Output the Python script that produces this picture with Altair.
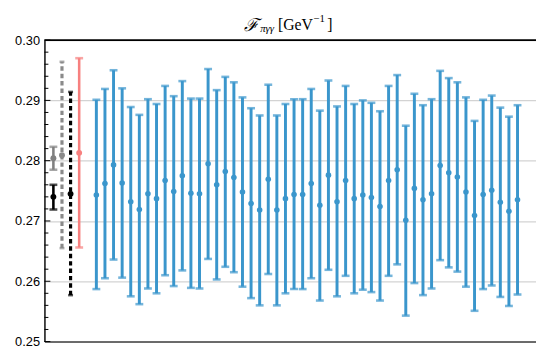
import altair as alt
import pandas as pd

# ---------------- data ----------------
blue_center = [0.2743, 0.2762, 0.2793, 0.2763, 0.2732, 0.2719, 0.2745, 0.2737, 0.2767, 0.2749,
               0.2775, 0.2746, 0.2745, 0.2795, 0.2760, 0.2782, 0.2772, 0.2748, 0.2729, 0.2718,
               0.2769, 0.2718, 0.2737, 0.2744, 0.2744, 0.2762, 0.2726, 0.2776, 0.2732, 0.2767,
               0.2737, 0.2743, 0.2739, 0.2724, 0.2767, 0.2785, 0.2701, 0.2754, 0.2735, 0.2745,
               0.2792, 0.2780, 0.2773, 0.2748, 0.2709, 0.2744, 0.2751, 0.2731, 0.2716, 0.2735]
blue_low = [0.2587, 0.2605, 0.2636, 0.2606, 0.2575, 0.2562, 0.2588, 0.2580, 0.2610, 0.2592,
            0.2618, 0.2589, 0.2588, 0.2637, 0.2603, 0.2624, 0.2615, 0.2591, 0.2572, 0.2560,
            0.2612, 0.2560, 0.2580, 0.2587, 0.2587, 0.2605, 0.2568, 0.2619, 0.2575, 0.2609,
            0.2580, 0.2586, 0.2582, 0.2568, 0.2609, 0.2628, 0.2543, 0.2597, 0.2577, 0.2588,
            0.2635, 0.2623, 0.2616, 0.2591, 0.2551, 0.2587, 0.2593, 0.2574, 0.2559, 0.2578]
blue_high = [0.2901, 0.2919, 0.2950, 0.2920, 0.2889, 0.2876, 0.2902, 0.2894, 0.2924, 0.2907,
             0.2932, 0.2903, 0.2903, 0.2952, 0.2917, 0.2939, 0.2930, 0.2905, 0.2887, 0.2875,
             0.2926, 0.2875, 0.2894, 0.2902, 0.2902, 0.2919, 0.2883, 0.2933, 0.2890, 0.2924,
             0.2894, 0.2900, 0.2896, 0.2882, 0.2924, 0.2942, 0.2858, 0.2911, 0.2892, 0.2902,
             0.2949, 0.2937, 0.2930, 0.2905, 0.2866, 0.2901, 0.2908, 0.2888, 0.2873, 0.2892]
blue_pos = list(range(len(blue_center)))

ref_names = ["gray_solid", "black_solid", "gray_dashed", "black_dashed", "red"]
ref_pos = [-5, -5, -4, -3, -2]
ref_center = [0.2804, 0.2740, 0.2809, 0.2745, 0.2813]
ref_low = [0.2785, 0.2719, 0.2655, 0.2577, 0.2656]
ref_high = [0.2823, 0.2760, 0.2964, 0.2914, 0.2970]
ref_colors = ["#808080", "#000000", "#8a8a8a", "#000000", "#f7807f"]
ref_dashed = [False, False, True, True, False]

major_ticks = [0.25, 0.26, 0.27, 0.28, 0.29, 0.30]
minor_ticks = [round(0.25 + 0.002 * i, 3) for i in range(26) if i % 5 != 0]
frame_top = [0.30]

title_parts = ["ℱ", "πγγ", "[GeV", "−1", "]"]

BLUE = "#3a96cc"
W, H = 499, 306

# ---------------- tables ----------------
blue_df = pd.DataFrame({"pos": blue_pos, "center": blue_center, "low": blue_low, "high": blue_high})
ref_df = pd.DataFrame({"name": ref_names, "pos": ref_pos, "center": ref_center, "low": ref_low,
                       "high": ref_high, "color": ref_colors, "dashed": ref_dashed})
major_df = pd.DataFrame({"v": major_ticks})
minor_df = pd.DataFrame({"v": minor_ticks})
top_df = pd.DataFrame({"v": frame_top})

xscale = alt.Scale(domain=[-6.04, 51.15], nice=False, zero=False)
yscale = alt.Scale(domain=[0.25, 0.30], nice=False, zero=False)

xaxis = alt.Axis(title=None, labels=False, ticks=False, grid=False,
                 domainColor="#444444", domainWidth=1.6)
yaxis = alt.Axis(title=None, values=major_ticks, format=".2f", ticks=False, tickSize=0,
                 labelPadding=5, labelFont="Liberation Sans", labelFontSize=13,
                 labelColor="#000000", domainColor="#000000", domainWidth=1.4,
                 grid=True, gridColor="#d3d3d3", gridWidth=1.3)

X = alt.X("pos:Q", scale=xscale, axis=xaxis, title=None)


def Yf(field):
    return alt.Y(f"{field}:Q", scale=yscale, axis=yaxis, title=None)


# blue series
blue_base = alt.Chart(blue_df)
blue_rule = blue_base.mark_rule(color=BLUE, strokeWidth=3).encode(
    x=X, y=Yf("low"), y2="high:Q")
blue_cap_lo = blue_base.mark_tick(color=BLUE, orient="horizontal", size=8, thickness=2.6).encode(
    x=X, y=Yf("low"))
blue_cap_hi = blue_base.mark_tick(color=BLUE, orient="horizontal", size=8, thickness=2.6).encode(
    x=X, y=Yf("high"))
blue_pt = blue_base.mark_circle(color=BLUE, size=32, opacity=1).encode(x=X, y=Yf("center"))

# reference points
solid = alt.Chart(ref_df).transform_filter("!datum.dashed")
dashed = alt.Chart(ref_df).transform_filter("datum.dashed")
C = alt.Color("color:N", scale=None)

solid_rule = solid.mark_rule(strokeWidth=2.6).encode(x=X, y=Yf("low"), y2="high:Q", color=C)
solid_cap_lo = solid.mark_tick(orient="horizontal", size=8, thickness=2.6).encode(
    x=X, y=Yf("low"), color=C)
solid_cap_hi = solid.mark_tick(orient="horizontal", size=8, thickness=2.6).encode(
    x=X, y=Yf("high"), color=C)
dash_rule = dashed.mark_rule(strokeWidth=3.2, strokeDash=[4.5, 3]).encode(
    x=X, y=Yf("low"), y2="high:Q", color=C)
dash_cap_lo = dashed.mark_tick(orient="horizontal", size=5, thickness=2.6).encode(
    x=X, y=Yf("low"), color=C)
dash_cap_hi = dashed.mark_tick(orient="horizontal", size=5, thickness=2.6).encode(
    x=X, y=Yf("high"), color=C)
ref_pt = alt.Chart(ref_df).mark_circle(size=36, opacity=1).encode(x=X, y=Yf("center"), color=C)

# inward ticks on the left axis and top frame
major_t = alt.Chart(major_df).mark_rule(color="#000000", strokeWidth=1).encode(
    y=Yf("v"), x=alt.value(0), x2=alt.value(6))
minor_t = alt.Chart(minor_df).mark_rule(color="#000000", strokeWidth=1).encode(
    y=Yf("v"), x=alt.value(0), x2=alt.value(4))
top_frame = alt.Chart(top_df).mark_rule(color="#000000", strokeWidth=1.6).encode(
    y=Yf("v"), x=alt.value(0), x2=alt.value(W))

# title made from text pieces
tdf = pd.DataFrame({"t": title_parts})


def tpart(i, x, y, size, font, style="normal"):
    return alt.Chart(tdf).transform_filter(f"datum.t == '{title_parts[i]}'").mark_text(
        align="left", baseline="alphabetic", font=font, fontSize=size, fontStyle=style,
        color="#000000").encode(text="t:N", x=alt.value(x), y=alt.value(y))


t0 = tpart(0, 203, -9.5, 18, "DejaVu Serif", "italic")
t1 = tpart(1, 219, -8, 11, "Liberation Serif", "italic")
t2 = tpart(2, 237, -10, 16, "Liberation Serif")
t3 = tpart(3, 273, -18, 11, "Liberation Serif")
t4 = tpart(4, 287, -10, 16, "Liberation Serif")

chart = alt.layer(
    blue_rule, blue_cap_lo, blue_cap_hi, blue_pt,
    solid_rule, solid_cap_lo, solid_cap_hi, dash_rule, dash_cap_lo, dash_cap_hi, ref_pt,
    major_t, minor_t, top_frame, t0, t1, t2, t3, t4,
).properties(
    width=W, height=H,
    padding={"left": 37, "top": 30, "right": 0, "bottom": 6},
    autosize=alt.AutoSizeParams(type="none"),
).configure_view(stroke=None).configure(background="white")

chart.save("out.html", embed_options={"renderer": "svg", "actions": False})
